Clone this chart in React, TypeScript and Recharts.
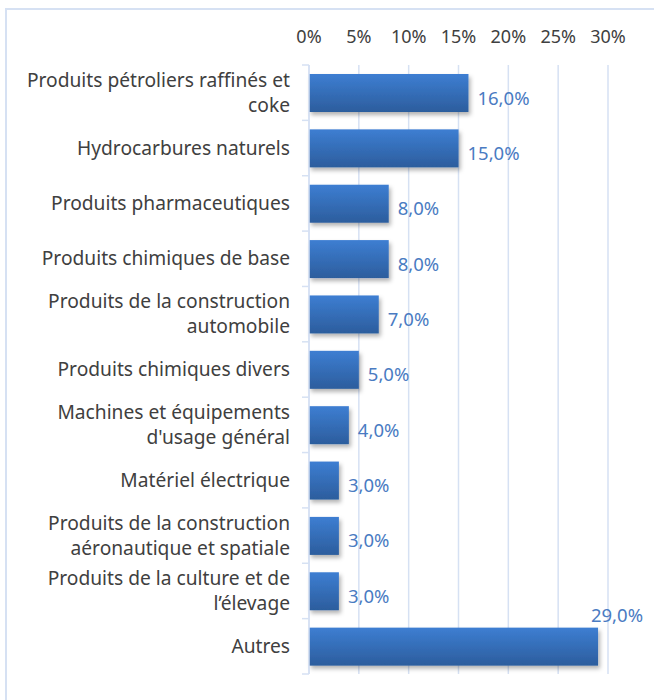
import React from 'react';
import { BarChart, Bar, XAxis, YAxis, CartesianGrid, LabelList } from 'recharts';

const categories = [
  'Produits pétroliers raffinés et\ncoke',
  'Hydrocarbures naturels',
  'Produits pharmaceutiques',
  'Produits chimiques de base',
  'Produits de la construction\nautomobile',
  'Produits chimiques divers',
  "Machines et équipements\nd'usage général",
  'Matériel électrique',
  'Produits de la construction\naéronautique et spatiale',
  'Produits de la culture et de\nl’élevage',
  'Autres',
];
const shares = [16, 15, 8, 8, 7, 5, 4, 3, 3, 3, 29];
const xTicks = [0, 5, 10, 15, 20, 25, 30];

const data = categories.map((name, i) => ({ name, value: shares[i] }));

const W = 654;
const H = 700;
const margin = { top: 25, right: 46, bottom: 26, left: 9 };
const XAXIS_H = 40;
const plotTop = margin.top + XAXIS_H;
const plotH = H - plotTop - margin.bottom;
const step = plotH / categories.length;

const FONT = "'Noto Sans', sans-serif";
const LIGHT = '#d6e1f3';
const TEXT = '#404040';
const LABEL = '#4a7bc2';

const YTick = (props: any) => {
  const { x, y, payload, index } = props;
  const lines = String(payload.value).split('\n');
  const lh = 25;
  const axisX = x + 19;
  return (
    <g>
      <text x={x} y={y} textAnchor="end" fill={TEXT} fontSize={19.2} fontFamily={FONT}>
        {lines.map((l, i) => (
          <tspan key={i} x={x} dy={i === 0 ? -((lines.length - 1) / 2) * lh + 6.5 : lh}>
            {l}
          </tspan>
        ))}
      </text>
      <line x1={axisX - 7} x2={axisX} y1={y - step / 2} y2={y - step / 2} stroke={LIGHT} strokeWidth={1.5} />
      {index === categories.length - 1 && (
        <line x1={axisX - 7} x2={axisX} y1={y + step / 2} y2={y + step / 2} stroke={LIGHT} strokeWidth={1.5} />
      )}
    </g>
  );
};

const ValueLabel = (props: any) => {
  const { x, y, width, height, value } = props;
  const text = `${Number(value).toFixed(1).replace('.', ',')}%`;
  const endX = Number(x) + Number(width);
  if (endX + 60 > W - 10) {
    return (
      <text x={endX + 45} y={Number(y) - 13} textAnchor="end" dominantBaseline="central" fill={LABEL} fontSize={18.5} fontFamily={FONT}>
        {text}
      </text>
    );
  }
  return (
    <text x={endX + 9} y={Number(y) + Number(height) / 2 + 4} textAnchor="start" dominantBaseline="central" fill={LABEL} fontSize={18.5} fontFamily={FONT}>
      {text}
    </text>
  );
};

const BarShape = (p: any) => (
  <rect x={p.x} y={p.y} width={p.width} height={p.height} fill="url(#barGrad)" filter="url(#barShadow)" />
);

export default function App() {
  return (
    <div style={{ position: 'fixed', left: 0, top: 0, width: W, height: H, overflow: 'hidden', background: '#fff' }}>
      <div
        style={{
          position: 'absolute',
          left: 5,
          top: 8,
          width: 700,
          height: 740,
          border: `2px solid ${LIGHT}`,
          boxSizing: 'border-box',
        }}
      />
      <div style={{ position: 'absolute', left: 0, top: 0 }}>
        <BarChart width={W} height={H} data={data} layout="vertical" margin={margin}>
          <defs>
            <linearGradient id="barGrad" x1="0" y1="0" x2="0" y2="1">
              <stop offset="0%" stopColor="#3d7ed2" />
              <stop offset="100%" stopColor="#2c5d9d" />
            </linearGradient>
            <filter id="barShadow" x="-10%" y="-20%" width="130%" height="160%">
              <feDropShadow dx="2" dy="3" stdDeviation="2" floodColor="#000" floodOpacity="0.3" />
            </filter>
          </defs>
          <CartesianGrid horizontal={false} vertical stroke={LIGHT} strokeWidth={1.5} />
          <XAxis
            type="number"
            orientation="top"
            domain={[0, 30]}
            ticks={xTicks}
            tickFormatter={(v: number) => `${v}%`}
            axisLine={false}
            tickLine={false}
            tickSize={0}
            tickMargin={22}
            height={XAXIS_H}
            interval={0}
            tick={{ fill: TEXT, fontSize: 18, fontFamily: FONT }}
          />
          <YAxis
            type="category"
            dataKey="name"
            width={300}
            interval={0}
            tickLine={false}
            tickSize={6}
            tickMargin={13}
            axisLine={{ stroke: LIGHT, strokeWidth: 1.5 }}
            tick={<YTick />}
          />
          <Bar dataKey="value" barSize={38} isAnimationActive={false} shape={<BarShape />}>
            <LabelList dataKey="value" content={<ValueLabel />} />
          </Bar>
        </BarChart>
      </div>
    </div>
  );
}
